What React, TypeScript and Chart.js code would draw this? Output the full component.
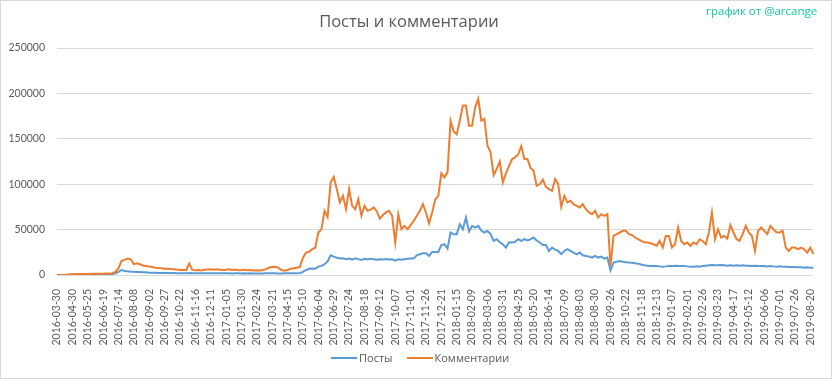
import React, { useEffect, useRef } from "react";
import { Chart, registerables } from "chart.js";

Chart.register(...registerables);

const tickLabels = [
  "2016-03-30","2016-04-30","2016-05-25","2016-06-19","2016-07-14","2016-08-08","2016-09-02","2016-09-27","2016-10-22","2016-11-16",
  "2016-12-11","2017-01-05","2017-01-30","2017-02-24","2017-03-21","2017-04-15","2017-05-10","2017-06-04","2017-06-29","2017-07-24",
  "2017-08-18","2017-09-12","2017-10-07","2017-11-01","2017-11-26","2017-12-21","2018-01-15","2018-02-09","2018-03-06","2018-03-31",
  "2018-04-25","2018-05-20","2018-06-14","2018-07-09","2018-08-03","2018-08-30","2018-09-26","2018-10-22","2018-11-18","2018-12-13",
  "2019-01-07","2019-02-01","2019-02-26","2019-03-23","2019-04-17","2019-05-12","2019-06-06","2019-07-01","2019-07-26","2019-08-20",
];

const comments = [
  0, 0, 0, 200, 500,
  800, 900, 1000, 1100, 1200,
  1200, 1300, 1300, 1400, 1400,
  1500, 1600, 1700, 1900, 3500,
  7500, 15500, 16600, 18100, 17300,
  12000, 13000, 11800, 10500, 9900,
  9300, 8800, 8100, 7600, 7400,
  7000, 6800, 6500, 6300, 6100,
  5500, 5800, 5400, 12600, 5600,
  5200, 5600, 5000, 5800, 6000,
  6200, 5700, 6300, 5900, 5500,
  5800, 6200, 5600, 6000, 5300,
  5500, 5900, 5200, 5600, 5000,
  5300, 5000, 5600, 6500, 8200,
  8800, 9000, 8000, 5500, 4800,
  5500, 7000, 7500, 8000, 9000,
  19000, 24700, 25500, 28400, 30000,
  46800, 50400, 70700, 64000, 102000,
  108000, 94600, 80000, 87200, 72500,
  94600, 76200, 72500, 83600, 65100,
  76200, 70700, 72000, 74400, 70000,
  62000, 66000, 68900, 70700, 65100,
  35800, 67000, 50400, 54100, 50400,
  55000, 59600, 65000, 70700, 78000,
  68900, 57000, 68900, 83000, 87200,
  112000, 107500, 113000, 170000, 158000,
  155000, 170000, 186700, 186700, 164500,
  164500, 184800, 194000, 170000, 171900,
  142400, 135100, 110000, 116700, 125000,
  102000, 112000, 120000, 127700, 129600,
  133000, 142000, 127700, 127700, 118000,
  114800, 98300, 100000, 105000, 97000,
  94600, 92700, 105700, 100000, 75000,
  87200, 80000, 81700, 78000, 76200,
  74400, 78000, 72500, 68900, 67000,
  70700, 63400, 67000, 65100, 67000,
  9900, 43000, 45000, 46800, 48600,
  48600, 45000, 44000, 41300, 39400,
  37500, 36000, 35800, 35000, 33900,
  32000, 37500, 30200, 43000, 43000,
  30200, 33900, 52300, 37500, 33900,
  35800, 32000, 35800, 33900, 39400,
  37500, 33900, 46800, 68900, 39400,
  50400, 41300, 43000, 40000, 55000,
  46800, 39400, 37500, 45000, 54100,
  46800, 43000, 26500, 48600, 52300,
  48600, 45000, 54100, 50400, 46800,
  46800, 48600, 30200, 26500, 30200,
  30200, 28400, 30200, 28400, 24700,
  30200, 23200,
];

const posts = [
  0, 0, 0, 100, 300,
  500, 600, 700, 700, 800,
  800, 800, 900, 900, 900,
  900, 1000, 1000, 1200, 2000,
  3500, 5500, 4400, 4000, 3700,
  3500, 3400, 3300, 3100, 2900,
  2600, 2500, 2400, 2300, 2200,
  2200, 2100, 2200, 2100, 2000,
  2000, 1900, 2000, 2100, 1900,
  1900, 2000, 1800, 1900, 2000,
  1900, 2000, 1800, 1900, 1800,
  1800, 1900, 1700, 1800, 1800,
  1700, 1800, 1700, 1800, 1700,
  1700, 1600, 1700, 1800, 1900,
  1900, 1800, 1700, 1700, 1800,
  1800, 1900, 1900, 2000, 2200,
  3500, 5500, 7000, 7200, 7000,
  9200, 10000, 11800, 15000, 21700,
  20300, 19000, 18100, 18500, 17500,
  18100, 17000, 18500, 17500, 16500,
  17800, 17000, 18000, 17300, 16800,
  17300, 17000, 17500, 17000, 17300,
  15900, 17300, 16800, 17300, 17800,
  18100, 18100, 21700, 22800, 24000,
  24000, 21000, 25400, 25400, 25400,
  33000, 33900, 29100, 46800, 45000,
  45000, 56000, 50400, 63400, 48000,
  54000, 52300, 54100, 49000, 46800,
  48600, 45000, 37500, 39400, 36000,
  33900, 30200, 36000, 35800, 36500,
  39400, 37500, 39400, 38000, 39400,
  41300, 38000, 35800, 33000, 33000,
  26500, 30200, 28000, 26500, 23000,
  26500, 28400, 26500, 24700, 22800,
  24700, 21700, 21000, 20500, 19200,
  21000, 19200, 20300, 18100, 19200,
  5000, 13700, 14500, 15500, 14600,
  14000, 13700, 13500, 12900, 12500,
  11500, 10700, 10300, 9900, 9900,
  9900, 9500, 9200, 9500, 9900,
  9900, 10300, 10000, 9900, 9900,
  9500, 9200, 9200, 9500, 9200,
  9900, 10300, 10700, 11000, 10700,
  10700, 11000, 10700, 10300, 10700,
  10300, 10700, 10300, 10700, 10300,
  10300, 9900, 10300, 9900, 9900,
  9900, 9500, 9900, 9500, 9200,
  9500, 9200, 9200, 8800, 8800,
  8800, 8400, 8400, 8100, 8400,
  8100, 8100,
];

const W = 832;
const H = 379;
const TEXT = "#595959";
const BLUE = "#5B9BD5";
const ORANGE = "#ED7D31";

export default function App() {
  const ref = useRef<HTMLCanvasElement>(null);

  useEffect(() => {
    document.body.style.margin = "0";
    const labels = comments.map((_, i) =>
      i % 5 === 0 && tickLabels[i / 5] ? tickLabels[i / 5] : ""
    );
    const chart = new Chart(ref.current as HTMLCanvasElement, {
      type: "line",
      data: {
        labels,
        datasets: [
          {
            label: "Посты",
            data: posts,
            borderColor: BLUE,
            backgroundColor: BLUE,
            borderWidth: 2,
            pointRadius: 0,
            tension: 0,
            order: 1,
          },
          {
            label: "Комментарии",
            data: comments,
            borderColor: ORANGE,
            backgroundColor: ORANGE,
            borderWidth: 2,
            pointRadius: 0,
            tension: 0,
            order: 0,
          },
        ],
      },
      options: {
        responsive: false,
        animation: false,
        layout: { padding: { left: 0, right: 14, top: 0, bottom: 0 } },
        plugins: {
          legend: { display: false },
          tooltip: { enabled: false },
          title: {
            display: true,
            text: "Посты и комментарии",
            color: TEXT,
            font: { family: "'Open Sans'", size: 16.5, weight: "normal", lineHeight: 1.2 },
            padding: { top: 12, bottom: 16.2 },
          },
        },
        scales: {
          x: {
            grid: { display: false },
            border: { display: false },
            ticks: {
              autoSkip: false,
              maxRotation: 90,
              minRotation: 90,
              padding: 6,
              color: TEXT,
              font: { family: "Lato", size: 10.5 },
            },
            afterFit: (s: any) => {
              s.height = 104;
            },
          },
          y: {
            min: 0,
            max: 250000,
            ticks: {
              stepSize: 50000,
              padding: 12,
              color: TEXT,
              font: { family: "Lato", size: 10.5 },
              callback: (v: any) => String(v),
            },
            grid: { color: "#d9d9d9", drawTicks: false },
            border: { display: false },
            afterFit: (s: any) => {
              s.width = 57;
            },
          },
        },
      },
    } as any);
    return () => chart.destroy();
  }, []);

  return (
    <div style={{ position: "relative", width: W, height: H, background: "#fff", overflow: "hidden" }}>
      <canvas ref={ref} width={W} height={H} style={{ display: "block" }} />
      <div
        style={{
          position: "absolute",
          left: 706,
          top: 3,
          fontFamily: "'Open Sans', sans-serif",
          fontSize: 11.5,
          color: "#13c9a1",
          whiteSpace: "nowrap",
        }}
      >
        график от @arcange
      </div>
      <div
        style={{
          position: "absolute",
          left: 331,
          top: 350,
          height: 15,
          display: "flex",
          alignItems: "center",
          fontFamily: "'Open Sans', sans-serif",
          fontSize: 11,
          color: TEXT,
          whiteSpace: "nowrap",
        }}
      >
        <span style={{ display: "inline-block", width: 26, height: 2, background: BLUE, marginRight: 2 }} />
        <span>Посты</span>
        <span style={{ display: "inline-block", width: 26, height: 2, background: ORANGE, marginLeft: 14, marginRight: 2 }} />
        <span>Комментарии</span>
      </div>
      <div
        style={{
          position: "absolute",
          left: 0,
          top: 0,
          width: W,
          height: H,
          boxSizing: "border-box",
          border: "1px solid #d9d9d9",
          pointerEvents: "none",
        }}
      />
    </div>
  );
}
